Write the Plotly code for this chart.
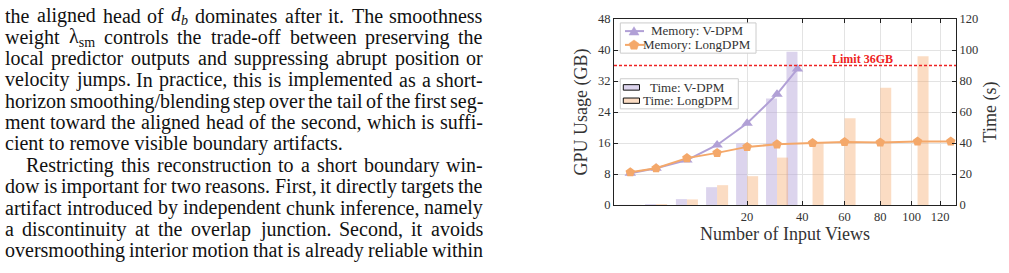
import numpy as np
import plotly.graph_objects as go

# ---------------- data ----------------
views_vdpm = [0.3, 2, 6, 12, 20, 30, 38]
mem_vdpm = [8.2, 9.5, 11.6, 15.5, 21.1, 28.6, 35.1]
time_vdpm = [0.1, 0.6, 3.8, 11.5, 39.7, 68.7, 98.9]

views_long = [0.3, 2, 6, 12, 20, 30, 44.5, 60, 80, 104, 128]
mem_long = [8.45, 9.5, 12.1, 13.45, 15.0, 15.65, 16.0, 16.25, 16.15, 16.4, 16.4]
time_long = [0.1, 0.6, 3.6, 12.8, 18.6, 30.6, 39.7, 56.0, 75.6, 96.0, None]

xtick_vals = [20, 40, 60, 80, 100, 120]
mem_limit = 36

names = ["Memory: V-DPM", "Memory: LongDPM", "Time: V-DPM", "Time: LongDPM"]

# ---------------- styles ----------------
C_PURPLE = "#b1a0d6"
C_ORANGE = "#f4a86a"
BAR_PURPLE = "rgba(177,160,214,0.45)"
BAR_ORANGE = "rgba(244,168,106,0.40)"
FONT = "Liberation Serif"
TXT = "#333333"

# plot-area pixel frame (figure 1009 x 273)
FW, FH = 1009, 273
L, R, T, B = 614, 956, 16, 205
PW, PH = R - L, B - T


def px(x):
    return (x - L) / PW


def py(y):
    return (B - y) / PH


sq = np.sqrt
bar_w = 0.37
x_max = 11.49

fig = go.Figure()
fig.add_trace(go.Bar(x=sq(views_vdpm), y=time_vdpm, width=bar_w, offset=-bar_w,
                     marker=dict(color=BAR_PURPLE, line=dict(width=0)),
                     name=names[2], yaxis="y"))
fig.add_trace(go.Bar(x=sq(views_long), y=time_long, width=bar_w, offset=0,
                     marker=dict(color=BAR_ORANGE, line=dict(width=0)),
                     name=names[3], yaxis="y"))
fig.add_trace(go.Scatter(x=sq(views_vdpm), y=mem_vdpm, mode="lines+markers",
                         line=dict(color=C_PURPLE, width=2),
                         marker=dict(symbol="triangle-up", size=10, color=C_PURPLE),
                         name=names[0], yaxis="y2"))
fig.add_trace(go.Scatter(x=sq(views_long), y=mem_long, mode="lines+markers",
                         line=dict(color=C_ORANGE, width=2),
                         marker=dict(symbol="pentagon", size=10, color=C_ORANGE),
                         name=names[1], yaxis="y2"))

axis_common = dict(showline=True, linecolor="#222222", linewidth=1.2,
                   ticks="inside", ticklen=3.5, tickcolor="#222222",
                   zeroline=False, tickfont=dict(family=FONT, size=12.5, color=TXT))

fig.update_layout(
    width=FW, height=FH,
    margin=dict(l=L, r=FW - R, t=T, b=FH - B, pad=0),
    paper_bgcolor="white", plot_bgcolor="white",
    showlegend=False, barmode="overlay",
    font=dict(family=FONT, color=TXT),
    xaxis=dict(range=[0, x_max], tickvals=list(sq(xtick_vals)),
               ticktext=[str(v) for v in xtick_vals], mirror="ticks",
               showgrid=True, gridcolor="#e3e3e3", gridwidth=1,
               title=dict(text="Number of Input Views", font=dict(family=FONT, size=18, color=TXT), standoff=2),
               **axis_common),
    yaxis=dict(range=[0, 120], dtick=20, side="right",
               showgrid=True, gridcolor="#e3e3e3", gridwidth=1,
               title=dict(text="Time (s)", font=dict(family=FONT, size=18, color=TXT), standoff=6),
               **axis_common),
    yaxis2=dict(range=[0, 48], dtick=8, side="left", overlaying="y",
                showgrid=False,
                title=dict(text="GPU Usage (GB)", font=dict(family=FONT, size=18, color=TXT), standoff=5),
                **axis_common),
)

shapes = []
annots = []
NOPAD = dict(borderpad=0, borderwidth=0, showarrow=False)

# memory limit line
shapes.append(dict(type="line", xref="paper", yref="y2", x0=0, x1=1, y0=mem_limit, y1=mem_limit,
                   line=dict(color="#ee2222", width=1.5, dash="3px,2px"), layer="above"))
annots.append(dict(xref="paper", yref="y2", x=px(862), y=mem_limit, yshift=7,
                   xanchor="center", yanchor="middle",
                   text="<b>Limit 36GB</b>",
                   font=dict(family=FONT, size=12, color="#ee2222"), **NOPAD))

# legend 1 (memory)
shapes.append(dict(type="rect", xref="paper", yref="paper", x0=px(620.3), x1=px(756), y0=py(20), y1=py(50.7),
                   fillcolor="white", line=dict(color="#cccccc", width=1), layer="above"))
for yy, col in [(28.3, C_PURPLE), (42.3, C_ORANGE)]:
    shapes.append(dict(type="line", xref="paper", yref="paper", x0=px(625), x1=px(644), y0=py(yy), y1=py(yy),
                       line=dict(color=col, width=2), layer="above"))
tri = [(629, 32.3), (639, 32.3), (634, 23.8)]
shapes.append(dict(type="path", xref="paper", yref="paper", layer="above",
                   path="M " + " L ".join(f"{px(a)},{py(b)}" for a, b in tri) + " Z",
                   fillcolor=C_PURPLE, line=dict(color=C_PURPLE, width=0.5)))
pent = [(634 + 5.2 * np.cos(np.radians(-90 + 72 * k)), 42.5 + 5.2 * np.sin(np.radians(-90 + 72 * k))) for k in range(5)]
shapes.append(dict(type="path", xref="paper", yref="paper", layer="above",
                   path="M " + " L ".join(f"{px(a)},{py(b)}" for a, b in pent) + " Z",
                   fillcolor=C_ORANGE, line=dict(color=C_ORANGE, width=0.5)))
for yy, nm in [(27.7, names[0]), (41.7, names[1])]:
    annots.append(dict(xref="paper", yref="paper", x=px(697), y=py(yy), xanchor="center", yanchor="middle",
                       text=nm, font=dict(family=FONT, size=13, color=TXT), **NOPAD))

# legend 2 (time)
shapes.append(dict(type="rect", xref="paper", yref="paper", x0=px(620.3), x1=px(738.3), y0=py(76.7), y1=py(107.3),
                   fillcolor="white", line=dict(color="#cccccc", width=1), layer="above"))
for (y0, y1), col in [((82.7, 88.3), BAR_PURPLE), ((96.3, 101.7), BAR_ORANGE)]:
    shapes.append(dict(type="rect", xref="paper", yref="paper", x0=px(623.3), x1=px(639.5), y0=py(y0), y1=py(y1),
                       fillcolor=col, line=dict(color="#111111", width=1), layer="above"))
for yy, nm in [(85.3, names[2]), (99.0, names[3])]:
    annots.append(dict(xref="paper", yref="paper", x=px(687.5), y=py(yy), xanchor="center", yanchor="middle",
                       text=nm, font=dict(family=FONT, size=13, color=TXT), **NOPAD))

# ---------------- body text on the left ----------------
W_TIMES = {' ': 250, '!': 333, "'": 333, '(': 333, ')': 333, ',': 250, '-': 333, '.': 250, '/': 278,
           ':': 278, ';': 278, '?': 444,
           'A': 722, 'B': 667, 'C': 667, 'D': 722, 'E': 611, 'F': 556, 'G': 722, 'H': 722, 'I': 333,
           'J': 389, 'K': 722, 'L': 611, 'M': 889, 'N': 722, 'O': 722, 'P': 556, 'Q': 722, 'R': 667,
           'S': 556, 'T': 611, 'U': 722, 'V': 722, 'W': 944, 'X': 722, 'Y': 722, 'Z': 611,
           'a': 444, 'b': 500, 'c': 444, 'd': 500, 'e': 444, 'f': 333, 'g': 500, 'h': 500, 'i': 278,
           'j': 278, 'k': 500, 'l': 278, 'm': 778, 'n': 500, 'o': 500, 'p': 500, 'q': 500, 'r': 333,
           's': 389, 't': 278, 'u': 500, 'v': 500, 'w': 722, 'x': 500, 'y': 500, 'z': 444}
FS = 20
D_B = ("<i>d</i><sub><i>b</i></sub>", 17)
LAM = ("λ<sub>sm</sub>", 26)

body = [
    (["the", "aligned", "head", "of", D_B, "dominates", "after", "it.", "The", "smoothness"], True, 5),
    (["weight", LAM, "controls", "the", "trade-off", "between", "preserving", "the"], True, 5),
    ("local predictor outputs and suppressing abrupt position or".split(), True, 5),
    ("velocity jumps. In practice, this is implemented as a short-".split(), True, 5),
    ("horizon smoothing/blending step over the tail of the first seg-".split(), True, 5),
    ("ment toward the aligned head of the second, which is suffi-".split(), True, 5),
    ("cient to remove visible boundary artifacts.".split(), False, 5),
    ("Restricting this reconstruction to a short boundary win-".split(), True, 26),
    ("dow is important for two reasons. First, it directly targets the".split(), True, 5),
    ("artifact introduced by independent chunk inference, namely".split(), True, 5),
    ("a discontinuity at the overlap junction. Second, it avoids".split(), True, 5),
    ("oversmoothing interior motion that is already reliable within".split(), True, 5),
]
X_RIGHT = 483.3
BASE0, LEAD = 18.8, 21.67


def word_w(w):
    if isinstance(w, tuple):
        return w[1]
    return sum(W_TIMES.get(c, 500) for c in w) * FS / 1000


for i, (words, justify, x0) in enumerate(body):
    yc = BASE0 + i * LEAD - 6.1
    if not justify:
        txt = " ".join(w[0] if isinstance(w, tuple) else w for w in words)
        annots.append(dict(xref="paper", yref="paper", x=px(x0), y=py(yc), xanchor="left", yanchor="middle",
                           text=txt, font=dict(family=FONT, size=FS, color="#111111"), **NOPAD))
        continue
    widths = [word_w(w) for w in words]
    gap = (X_RIGHT - x0 - sum(widths)) / (len(words) - 1)
    xpos = x0
    for j, w in enumerate(words):
        txt = w[0] if isinstance(w, tuple) else w
        last = j == len(words) - 1
        annots.append(dict(xref="paper", yref="paper", x=px(X_RIGHT if last else xpos), y=py(yc),
                           xanchor="right" if last else "left", yanchor="middle",
                           text=txt, font=dict(family=FONT, size=FS, color="#111111"), **NOPAD))
        xpos += widths[j] + gap

fig.update_layout(shapes=shapes, annotations=annots)
fig.write_html("out.html")
